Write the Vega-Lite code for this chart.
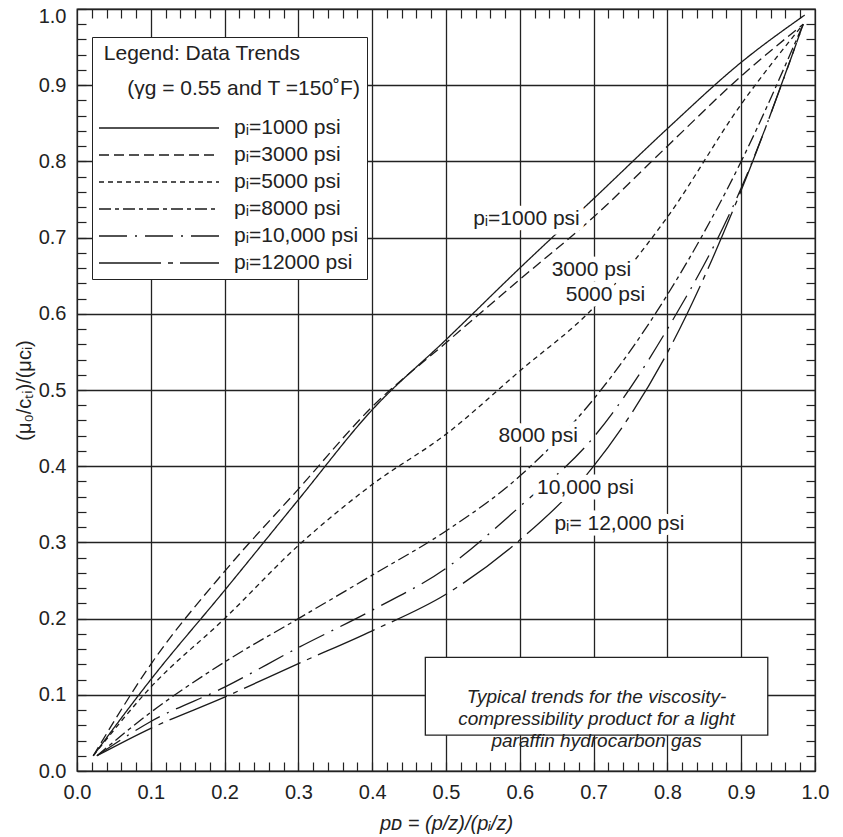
{
  "$schema": "https://vega.github.io/schema/vega-lite/v6.json",
  "width": 738,
  "height": 762,
  "autosize": {"type": "none"},
  "padding": {"left": 77, "top": 9, "right": 28, "bottom": 66},
  "background": "white",
  "config": {
    "font": "Liberation Sans",
    "view": {"stroke": "#222", "strokeWidth": 1.3}
  },
  "datasets": {
    "curves": [
      {"series": "pᵢ=1000 psi", "pD": 0.022, "ratio": 0.02},
      {"series": "pᵢ=1000 psi", "pD": 0.1, "ratio": 0.12},
      {"series": "pᵢ=1000 psi", "pD": 0.2, "ratio": 0.237},
      {"series": "pᵢ=1000 psi", "pD": 0.3, "ratio": 0.356},
      {"series": "pᵢ=1000 psi", "pD": 0.4, "ratio": 0.474},
      {"series": "pᵢ=1000 psi", "pD": 0.5, "ratio": 0.566},
      {"series": "pᵢ=1000 psi", "pD": 0.6, "ratio": 0.66},
      {"series": "pᵢ=1000 psi", "pD": 0.7, "ratio": 0.751},
      {"series": "pᵢ=1000 psi", "pD": 0.8, "ratio": 0.843},
      {"series": "pᵢ=1000 psi", "pD": 0.9, "ratio": 0.93},
      {"series": "pᵢ=1000 psi", "pD": 0.986, "ratio": 0.992},
      {"series": "pᵢ=3000 psi", "pD": 0.022, "ratio": 0.02},
      {"series": "pᵢ=3000 psi", "pD": 0.1, "ratio": 0.14},
      {"series": "pᵢ=3000 psi", "pD": 0.2, "ratio": 0.262},
      {"series": "pᵢ=3000 psi", "pD": 0.3, "ratio": 0.37},
      {"series": "pᵢ=3000 psi", "pD": 0.4, "ratio": 0.478},
      {"series": "pᵢ=3000 psi", "pD": 0.5, "ratio": 0.562},
      {"series": "pᵢ=3000 psi", "pD": 0.6, "ratio": 0.645},
      {"series": "pᵢ=3000 psi", "pD": 0.7, "ratio": 0.727},
      {"series": "pᵢ=3000 psi", "pD": 0.8, "ratio": 0.82},
      {"series": "pᵢ=3000 psi", "pD": 0.9, "ratio": 0.912},
      {"series": "pᵢ=3000 psi", "pD": 0.984, "ratio": 0.98},
      {"series": "pᵢ=5000 psi", "pD": 0.022, "ratio": 0.02},
      {"series": "pᵢ=5000 psi", "pD": 0.1, "ratio": 0.11},
      {"series": "pᵢ=5000 psi", "pD": 0.2, "ratio": 0.2},
      {"series": "pᵢ=5000 psi", "pD": 0.3, "ratio": 0.296},
      {"series": "pᵢ=5000 psi", "pD": 0.4, "ratio": 0.376},
      {"series": "pᵢ=5000 psi", "pD": 0.5, "ratio": 0.442},
      {"series": "pᵢ=5000 psi", "pD": 0.6, "ratio": 0.525},
      {"series": "pᵢ=5000 psi", "pD": 0.7, "ratio": 0.608},
      {"series": "pᵢ=5000 psi", "pD": 0.8, "ratio": 0.727},
      {"series": "pᵢ=5000 psi", "pD": 0.9, "ratio": 0.875},
      {"series": "pᵢ=5000 psi", "pD": 0.984, "ratio": 0.98},
      {"series": "pᵢ=8000 psi", "pD": 0.027, "ratio": 0.02},
      {"series": "pᵢ=8000 psi", "pD": 0.1, "ratio": 0.077},
      {"series": "pᵢ=8000 psi", "pD": 0.2, "ratio": 0.143},
      {"series": "pᵢ=8000 psi", "pD": 0.3, "ratio": 0.2},
      {"series": "pᵢ=8000 psi", "pD": 0.4, "ratio": 0.257},
      {"series": "pᵢ=8000 psi", "pD": 0.5, "ratio": 0.315},
      {"series": "pᵢ=8000 psi", "pD": 0.6, "ratio": 0.387},
      {"series": "pᵢ=8000 psi", "pD": 0.7, "ratio": 0.488},
      {"series": "pᵢ=8000 psi", "pD": 0.8, "ratio": 0.625},
      {"series": "pᵢ=8000 psi", "pD": 0.9, "ratio": 0.8},
      {"series": "pᵢ=8000 psi", "pD": 0.984, "ratio": 0.98},
      {"series": "pᵢ=10,000 psi", "pD": 0.027, "ratio": 0.02},
      {"series": "pᵢ=10,000 psi", "pD": 0.1, "ratio": 0.065},
      {"series": "pᵢ=10,000 psi", "pD": 0.2, "ratio": 0.11},
      {"series": "pᵢ=10,000 psi", "pD": 0.3, "ratio": 0.162},
      {"series": "pᵢ=10,000 psi", "pD": 0.4, "ratio": 0.211},
      {"series": "pᵢ=10,000 psi", "pD": 0.5, "ratio": 0.266},
      {"series": "pᵢ=10,000 psi", "pD": 0.6, "ratio": 0.347},
      {"series": "pᵢ=10,000 psi", "pD": 0.7, "ratio": 0.438},
      {"series": "pᵢ=10,000 psi", "pD": 0.8, "ratio": 0.58},
      {"series": "pᵢ=10,000 psi", "pD": 0.9, "ratio": 0.765},
      {"series": "pᵢ=10,000 psi", "pD": 0.984, "ratio": 0.98},
      {"series": "pᵢ=12000 psi", "pD": 0.027, "ratio": 0.02},
      {"series": "pᵢ=12000 psi", "pD": 0.1, "ratio": 0.056},
      {"series": "pᵢ=12000 psi", "pD": 0.2, "ratio": 0.097},
      {"series": "pᵢ=12000 psi", "pD": 0.3, "ratio": 0.141},
      {"series": "pᵢ=12000 psi", "pD": 0.4, "ratio": 0.184},
      {"series": "pᵢ=12000 psi", "pD": 0.5, "ratio": 0.232},
      {"series": "pᵢ=12000 psi", "pD": 0.6, "ratio": 0.303},
      {"series": "pᵢ=12000 psi", "pD": 0.7, "ratio": 0.4},
      {"series": "pᵢ=12000 psi", "pD": 0.8, "ratio": 0.549},
      {"series": "pᵢ=12000 psi", "pD": 0.9, "ratio": 0.762},
      {"series": "pᵢ=12000 psi", "pD": 0.984, "ratio": 0.98}
    ],
    "labels": [
      {"label": "pᵢ=1000 psi", "pD": 0.609, "ratio": 0.725},
      {"label": "3000 psi", "pD": 0.697, "ratio": 0.658},
      {"label": "5000 psi", "pD": 0.716, "ratio": 0.625},
      {"label": "8000 psi", "pD": 0.625, "ratio": 0.439},
      {"label": "10,000 psi", "pD": 0.689, "ratio": 0.372},
      {"label": "pᵢ= 12,000 psi", "pD": 0.735, "ratio": 0.324}
    ],
    "box": [
      {"x1": 0.472, "x2": 0.936, "y1": 0.047, "y2": 0.149}
    ],
    "note": [
      {"text": "Typical trends for the viscosity-\ncompressibility product for a light\nparaffin hydrocarbon gas", "pD": 0.704, "ratio": 0.097}
    ]
  },
  "layer": [
    {
      "data": {"name": "curves"},
      "mark": {"type": "line", "interpolate": "monotone", "strokeWidth": 1.3, "color": "#1a1a1a"},
      "encoding": {
        "x": {
          "field": "pD", "type": "quantitative",
          "scale": {"domain": [0, 1], "nice": false, "zero": false},
          "axis": {
            "orient": "bottom",
            "values": [0,0.02,0.04,0.06,0.08,0.1,0.12,0.14,0.16,0.18,0.2,0.22,0.24,0.26,0.28,0.3,0.32,0.34,0.36,0.38,0.4,0.42,0.44,0.46,0.48,0.5,0.52,0.54,0.56,0.58,0.6,0.62,0.64,0.66,0.68,0.7,0.72,0.74,0.76,0.78,0.8,0.82,0.84,0.86,0.88,0.9,0.92,0.94,0.96,0.98,1],
            "labelExpr": "abs(datum.value*10 - round(datum.value*10)) < 0.001 ? format(datum.value, '.1f') : ''",
            "labelFontSize": 20, "labelColor": "#222", "labelPadding": 20,
            "labelOverlap": false, "labelFlush": false,
            "tickSize": -9, "tickWidth": 1.2, "tickColor": "#222",
            "domain": false,
            "grid": true, "gridColor": "#222", "gridWidth": 1.3,
            "gridOpacity": {"condition": {"test": "abs(datum.value*10 - round(datum.value*10)) < 0.001", "value": 1}, "value": 0},
            "title": "pᴅ = (p/z)/(pᵢ/z)",
            "titleFontSize": 20, "titleFontStyle": "italic", "titleFontWeight": "normal", "titleColor": "#222", "titlePadding": 11
          }
        },
        "y": {
          "field": "ratio", "type": "quantitative",
          "scale": {"domain": [0, 1], "nice": false, "zero": false},
          "axis": {
            "orient": "left",
            "values": [0,0.02,0.04,0.06,0.08,0.1,0.12,0.14,0.16,0.18,0.2,0.22,0.24,0.26,0.28,0.3,0.32,0.34,0.36,0.38,0.4,0.42,0.44,0.46,0.48,0.5,0.52,0.54,0.56,0.58,0.6,0.62,0.64,0.66,0.68,0.7,0.72,0.74,0.76,0.78,0.8,0.82,0.84,0.86,0.88,0.9,0.92,0.94,0.96,0.98,1],
            "labelExpr": "abs(datum.value*10 - round(datum.value*10)) < 0.001 ? format(datum.value, '.1f') : ''",
            "labelFontSize": 20, "labelColor": "#222", "labelPadding": 20,
            "labelOffset": {"condition": {"test": "datum.value > 0.999", "value": 7}, "value": 0},
            "labelOverlap": false, "labelFlush": false,
            "tickSize": -9, "tickWidth": 1.2, "tickColor": "#222",
            "domain": false,
            "grid": true, "gridColor": "#222", "gridWidth": 1.3,
            "gridOpacity": {"condition": {"test": "abs(datum.value*10 - round(datum.value*10)) < 0.001", "value": 1}, "value": 0},
            "title": "(μ₀/cₜᵢ)/(μcᵢ)",
            "titleFontSize": 20, "titleFontWeight": "normal", "titleColor": "#222", "titlePadding": 4
          }
        },
        "strokeDash": {
          "field": "series", "type": "nominal",
          "scale": {
            "domain": ["pᵢ=1000 psi", "pᵢ=3000 psi", "pᵢ=5000 psi", "pᵢ=8000 psi", "pᵢ=10,000 psi", "pᵢ=12000 psi"],
            "range": [[1, 0], [10, 5], [5, 4], [12, 4, 4, 4], [28, 8, 2, 8], [62, 7, 5, 7]]
          },
          "legend": {
            "orient": "none", "legendX": 15, "legendY": 28,
            "title": ["\u200b\u00a0Legend: Data Trends", "\u200b\u00a0\u00a0\u00a0\u00a0\u00a0(γg = 0.55 and T =150˚F)"],
            "titleFontSize": 21, "titleFontWeight": "normal", "titleColor": "#222",
            "titleLineHeight": 35, "titlePadding": 19, "titleLimit": 400,
            "labelFontSize": 21, "labelColor": "#222", "labelOffset": 14, "labelLimit": 300,
            "symbolType": "stroke", "symbolSize": 14400, "symbolStrokeWidth": 1.3, "symbolStrokeColor": "#1a1a1a",
            "clipHeight": 20, "rowPadding": 6,
            "fillColor": "white", "strokeColor": "#222", "padding": 6, "cornerRadius": 0
          }
        }
      }
    },
    {
      "data": {"name": "labels"},
      "mark": {"type": "text", "fontSize": 21, "color": "white", "stroke": "white", "strokeWidth": 11, "strokeJoin": "round", "align": "center", "baseline": "middle"},
      "encoding": {
        "x": {
          "field": "pD", "type": "quantitative",
          "axis": {
            "orient": "top",
            "values": [0.02,0.04,0.06,0.08,0.12,0.14,0.16,0.18,0.22,0.24,0.26,0.28,0.32,0.34,0.36,0.38,0.42,0.44,0.46,0.48,0.52,0.54,0.56,0.58,0.62,0.64,0.66,0.68,0.72,0.74,0.76,0.78,0.82,0.84,0.86,0.88,0.92,0.94,0.96,0.98],
            "labels": false, "grid": false, "domain": false, "title": null,
            "tickSize": -9, "tickWidth": 1.2, "tickColor": "#222"
          }
        },
        "y": {
          "field": "ratio", "type": "quantitative",
          "axis": {
            "orient": "right",
            "values": [0.02,0.04,0.06,0.08,0.12,0.14,0.16,0.18,0.22,0.24,0.26,0.28,0.32,0.34,0.36,0.38,0.42,0.44,0.46,0.48,0.52,0.54,0.56,0.58,0.62,0.64,0.66,0.68,0.72,0.74,0.76,0.78,0.82,0.84,0.86,0.88,0.92,0.94,0.96,0.98],
            "labels": false, "grid": false, "domain": false, "title": null,
            "tickSize": -9, "tickWidth": 1.2, "tickColor": "#222"
          }
        },
        "text": {"field": "label"}
      }
    },
    {
      "data": {"name": "labels"},
      "mark": {"type": "text", "fontSize": 21, "color": "#222", "align": "center", "baseline": "middle"},
      "encoding": {
        "x": {"field": "pD", "type": "quantitative", "axis": null},
        "y": {"field": "ratio", "type": "quantitative", "axis": null},
        "text": {"field": "label"}
      }
    },
    {
      "data": {"name": "box"},
      "mark": {"type": "rect", "fill": "white", "stroke": "#222", "strokeWidth": 1.3},
      "encoding": {
        "x": {"field": "x1", "type": "quantitative", "axis": null},
        "x2": {"field": "x2"},
        "y": {"field": "y1", "type": "quantitative", "axis": null},
        "y2": {"field": "y2"}
      }
    },
    {
      "data": {"name": "note"},
      "mark": {"type": "text", "fontSize": 19, "fontStyle": "italic", "color": "#222", "align": "center", "baseline": "middle", "lineBreak": "\n", "lineHeight": 22},
      "encoding": {
        "x": {"field": "pD", "type": "quantitative", "axis": null},
        "y": {"field": "ratio", "type": "quantitative", "axis": null},
        "text": {"field": "text"}
      }
    }
  ],
  "resolve": {"axis": {"x": "independent", "y": "independent"}}
}
